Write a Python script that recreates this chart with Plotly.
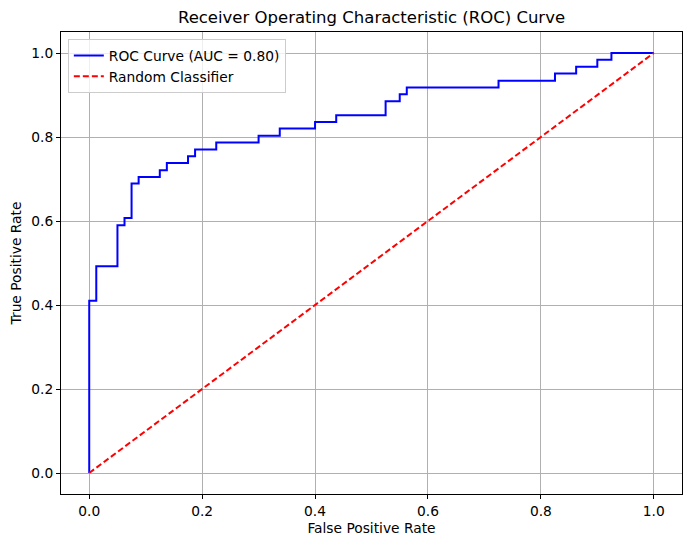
import plotly.graph_objects as go

fpr = [0.0, 0.0, 0.0125, 0.05, 0.0625, 0.075, 0.0875, 0.125, 0.1375, 0.175, 0.1875,
       0.225, 0.30, 0.3375, 0.40, 0.4375, 0.525, 0.55, 0.5625, 0.725, 0.825,
       0.8625, 0.90, 0.925, 1.0]
tpr = [0.0, 0.410, 0.492, 0.590, 0.607, 0.689, 0.705, 0.721, 0.738, 0.754, 0.770,
       0.787, 0.803, 0.820, 0.836, 0.852, 0.885, 0.902, 0.918, 0.934, 0.951,
       0.967, 0.984, 1.0, 1.0]
diag_x = [0.0, 1.0]
diag_y = [0.0, 1.0]
auc_label = "ROC Curve (AUC = 0.80)"
ticks = [0.0, 0.2, 0.4, 0.6, 0.8, 1.0]
tick_text = ["0.0", "0.2", "0.4", "0.6", "0.8", "1.0"]

font = "DejaVu Sans"
fs = 13.8

fig = go.Figure()
fig.add_trace(go.Scatter(x=fpr, y=tpr, mode="lines", line_shape="hv",
                         line=dict(color="blue", width=2), name=auc_label))
fig.add_trace(go.Scatter(x=diag_x, y=diag_y, mode="lines",
                         line=dict(color="red", width=2, dash="6px,3px"),
                         name="Random Classifier"))

axis_common = dict(
    showgrid=True, gridcolor="#b0b0b0", gridwidth=1,
    showline=True, linecolor="black", linewidth=1, mirror=True,
    ticks="outside", ticklen=4, tickcolor="black", automargin=False,
    zeroline=False, tickfont=dict(family=font, size=fs, color="black"),
    tickvals=ticks, ticktext=tick_text,
)

fig.update_layout(
    width=691, height=547,
    margin=dict(l=53, r=17, t=24, b=61),
    paper_bgcolor="white", plot_bgcolor="white",
    title=dict(text="Receiver Operating Characteristic (ROC) Curve", automargin=False,
               x=(53 + 674) / 2 / 691, xanchor="center", y=1 - 9 / 547, yanchor="middle",
               font=dict(family=font, size=16.5, color="black")),
    xaxis=dict(range=[-0.05, 1.05], title=dict(text="False Positive Rate",
               font=dict(family=font, size=fs, color="black"), standoff=5), **axis_common),
    yaxis=dict(range=[-0.05, 1.05], title=dict(text="True Positive Rate",
               font=dict(family=font, size=fs, color="black"), standoff=9), **axis_common),
    legend=dict(x=0.011, y=0.985, xanchor="left", yanchor="top",
                bgcolor="rgba(255,255,255,0.8)", bordercolor="#cccccc", borderwidth=1,
                font=dict(family=font, size=fs, color="black"), tracegroupgap=0),
    showlegend=True,
)

fig.write_html("out.html")
